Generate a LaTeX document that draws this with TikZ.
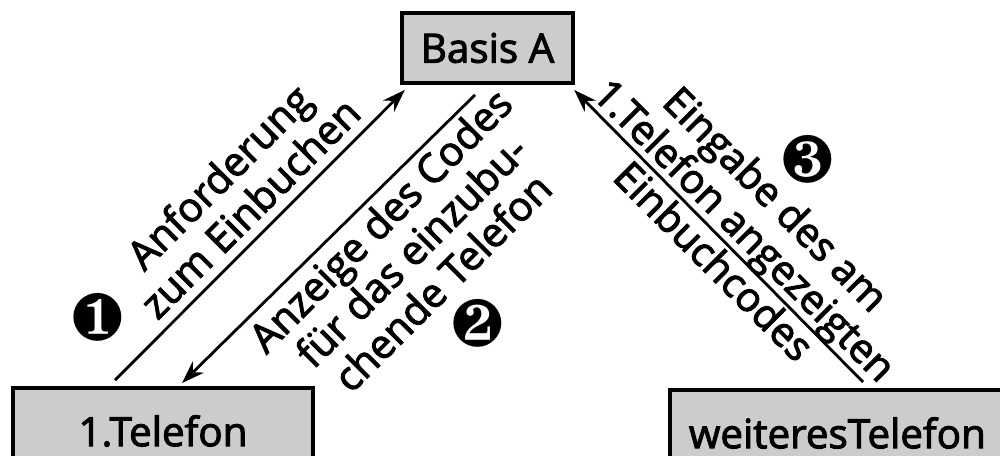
\documentclass[tikz,border=0pt]{standalone}
\usepackage{fontspec}
\setmainfont{Open Sans}[FakeBold=2.5]
\usepackage{pifont}
\usetikzlibrary{arrows.meta}
\newcommand{\nr}[1]{\fontsize{38}{38}\selectfont\ding{#1}}

\begin{document}
\begin{tikzpicture}[
    geraet/.style={draw, fill=black!20, line width=2.2pt, minimum height=1.72cm,
                   inner xsep=0.38cm, font=\fontsize{23}{24}\selectfont},
    etikett/.style={align=center, inner sep=0pt, font=\fontsize{23}{25}\selectfont},
    pfeil/.style={line width=1.6pt, -{Stealth[length=13pt, width=9pt]}}]
  \useasboundingbox (0,0) rectangle (20,9.12);
  \clip (0,0) rectangle (20,9.12);
  % Geraete
  \node[geraet, minimum width=3.42cm, minimum height=1.4cm] (basis) at (9.75,8.16) {Basis A};
  \node[geraet, minimum width=6cm] (tel1) at (3.26,0.5) {1.Telefon};
  \node[geraet, anchor=north west, text width=7cm, align=left] (tel2) at (13.36,1.36) {weiteresTelefon};
  % Pfeile
  \draw[pfeil] ([xshift=-0.96cm, yshift=0.12cm]tel1.north) -- ([xshift=0.1cm, yshift=-0.1cm]basis.south west);
  \draw[pfeil] ([xshift=-0.25cm, yshift=-0.2cm]basis.south) -- ([xshift=0.38cm, yshift=0.06cm]tel1.north);
  \draw[pfeil] ([xshift=3.9cm, yshift=0.12cm]tel2.north west) -- ([xshift=-0.02cm, yshift=-0.1cm]basis.south east);
  % Beschriftung
  \node[etikett, rotate=45 ] (txt1) at ( 4.68,5.28) {Anforderung\\zum Einbuchen};
  \node[etikett, rotate=45 ] (txt2) at ( 8.22,4.10) {Anzeige des Codes\\für das einzubu-\\chende Telefon};
  \node[etikett, rotate=-45] (txt3) at (14.91,4.53) {Eingabe des am\\1.Telefon angezeigten\\Einbuchcodes};
  \node (nr1) at ( 1.96,2.78) {\nr{182}};
  \node (nr2) at ( 9.56,2.66) {\nr{183}};
  \node (nr3) at (16.16,5.94) {\nr{184}};
\end{tikzpicture}
\end{document}
